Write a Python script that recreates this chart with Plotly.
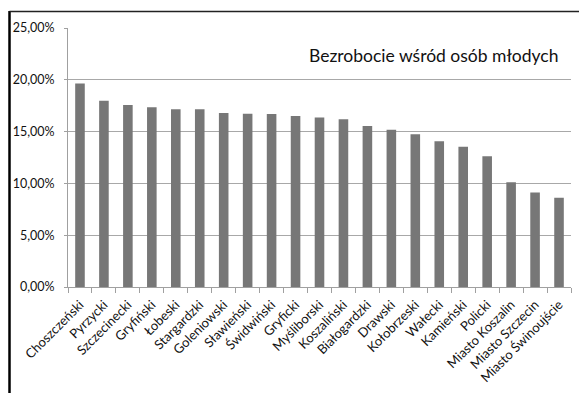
import plotly.graph_objects as go

categories = ["Choszczeński", "Pyrzycki", "Szczecinecki", "Gryfiński", "Łobeski",
              "Stargardzki", "Goleniowski", "Sławieński", "Świdwiński", "Gryficki",
              "Myśliborski", "Koszaliński", "Białogardzki", "Drawski", "Kołobrzeski",
              "Wałecki", "Kamieński", "Policki", "Miasto Koszalin", "Miasto Szczecin",
              "Miasto Świnoujście"]
values = [0.1965, 0.1798, 0.1756, 0.1734, 0.1715, 0.1715, 0.1680, 0.1673, 0.1670, 0.1650,
          0.1635, 0.1620, 0.1555, 0.1519, 0.1474, 0.1407, 0.1353, 0.1263, 0.1010, 0.0913,
          0.0862]
y_ticks = [0, 0.05, 0.10, 0.15, 0.20, 0.25]
title_text = "Bezrobocie wśród osób młodych"

FONT = "Lato, Open Sans, sans-serif"

fig = go.Figure(go.Bar(x=categories, y=values, marker=dict(color="#777777", line=dict(width=0)),
                       width=0.4))

fig.update_layout(
    width=579, height=393,
    margin=dict(l=68, r=8, t=28, b=106),
    paper_bgcolor="white", plot_bgcolor="white",
    separators=", ",
    showlegend=False,
    font=dict(family=FONT, size=12, color="#111111"),
    bargap=0.6,
)
fig.update_xaxes(
    tickangle=-45, ticks="outside", tickson="boundaries", ticklen=5, tickcolor="#a0a0a0",
    showline=True, linecolor="#a0a0a0", linewidth=1, showgrid=False,
    tickfont=dict(family=FONT, size=13, color="#111111"),
    ticklabelstandoff=4,
)
fig.update_yaxes(
    range=[0, 0.25], tickvals=y_ticks, tickformat=".2%",
    showgrid=True, gridcolor="#a8a8a8", gridwidth=1,
    showline=True, linecolor="#a0a0a0", linewidth=1,
    ticks="outside", ticklen=3, tickcolor="#a0a0a0", zeroline=False,
    tickfont=dict(family=FONT, size=12.5, color="#111111"),
    ticklabelstandoff=7,
)
fig.add_annotation(
    text=title_text, xref="paper", yref="paper", x=0.727, y=0.894,
    showarrow=False, xanchor="center", yanchor="middle",
    font=dict(family=FONT, size=17.5, color="#111111"),
)
# outer frame lines (left and top)
fig.add_shape(type="line", xref="paper", yref="paper",
              x0=(9.5 - 68) / 503, x1=(9.5 - 68) / 503,
              y0=(287 - 11) / 259, y1=(287 - 400) / 259,
              line=dict(color="black", width=2.5))
fig.add_shape(type="line", xref="paper", yref="paper",
              x0=(9.5 - 68) / 503, x1=(590 - 68) / 503,
              y0=(287 - 11.5) / 259, y1=(287 - 11.5) / 259,
              line=dict(color="#222222", width=1.5))

fig.write_html("out.html")
